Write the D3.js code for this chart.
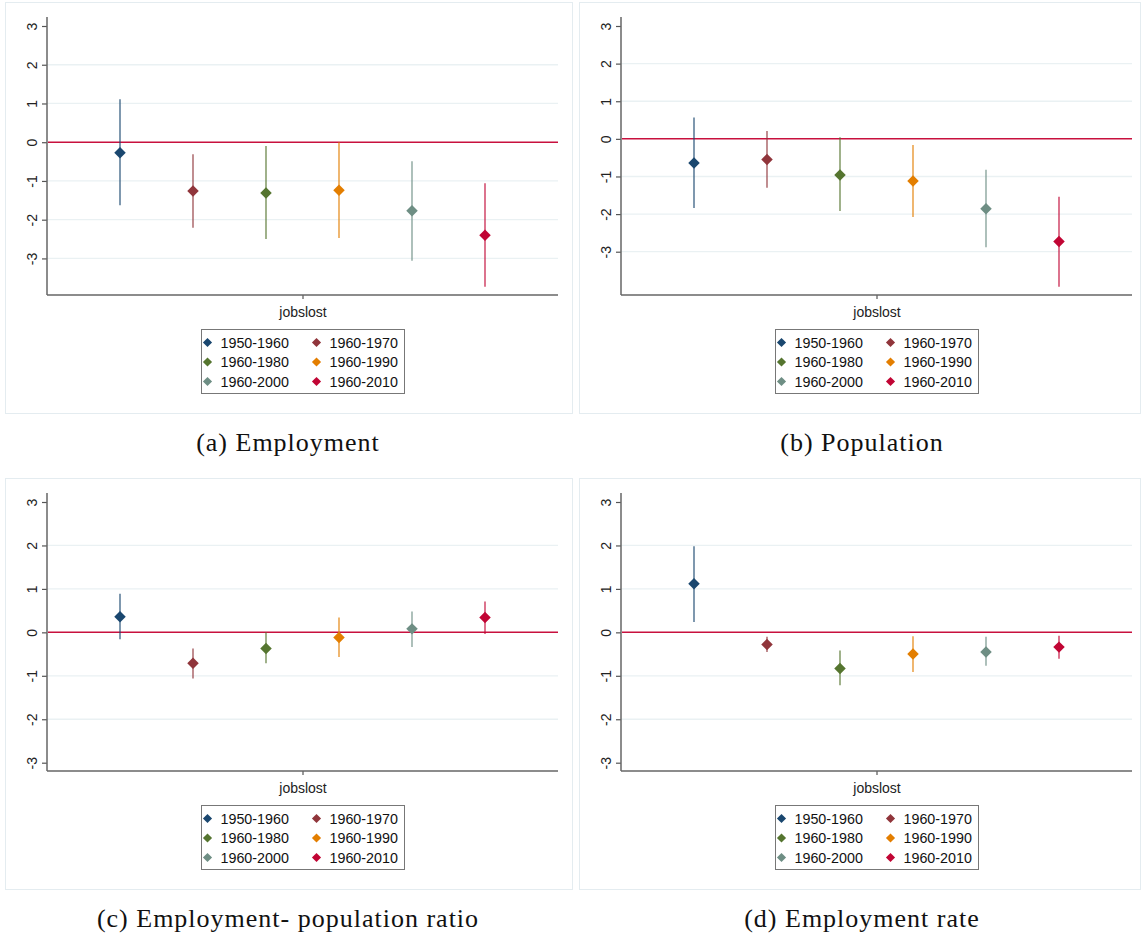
<!DOCTYPE html>
<html>
<head>
<meta charset="utf-8">
<script src="https://cdn.jsdelivr.net/npm/d3@7"></script>
<style>
  html, body { margin: 0; padding: 0; background: #fff; }
  svg { display: block; }
</style>
</head>
<body>
<svg id="chart" width="1143" height="938"></svg>
<script>
// ---------------- data ----------------
const periods = ["1950-1960", "1960-1970", "1960-1980", "1960-1990", "1960-2000", "1960-2010"];
const periodColors = ["#1a476f", "#90353b", "#55752f", "#e37e00", "#6e8e84", "#c10534"];
const yTicks = [-3, -2, -1, 0, 1, 2, 3];
const xTickLabel = "jobslost";
const panelTitles = ["(a) Employment", "(b) Population", "(c) Employment- population ratio", "(d) Employment rate"];

const empPoint = [-0.27, -1.26, -1.31, -1.24, -1.77, -2.40];
const empLo    = [-1.63, -2.21, -2.50, -2.47, -3.06, -3.73];
const empHi    = [ 1.11, -0.31, -0.10,  0.00, -0.49, -1.06];

const popPoint = [-0.64, -0.55, -0.96, -1.12, -1.86, -2.73];
const popLo    = [-1.84, -1.30, -1.92, -2.08, -2.88, -3.93];
const popHi    = [ 0.57,  0.21,  0.04, -0.16, -0.82, -1.54];

const ratioPoint = [ 0.36, -0.71, -0.37, -0.12,  0.08,  0.34];
const ratioLo    = [-0.16, -1.06, -0.71, -0.57, -0.34, -0.04];
const ratioHi    = [ 0.89, -0.37,  0.00,  0.34,  0.48,  0.71];

const ratePoint = [ 1.12, -0.28, -0.83, -0.50, -0.45, -0.34];
const rateLo    = [ 0.24, -0.45, -1.22, -0.91, -0.77, -0.61];
const rateHi    = [ 1.98, -0.10, -0.42, -0.09, -0.10, -0.08];

const panels = [
  { title: panelTitles[0], point: empPoint,   lo: empLo,   hi: empHi,   ox: 0,   oy: 0,   boxW: 567 },
  { title: panelTitles[1], point: popPoint,   lo: popLo,   hi: popHi,   ox: 574, oy: 0,   boxW: 561 },
  { title: panelTitles[2], point: ratioPoint, lo: ratioLo, hi: ratioHi, ox: 0,   oy: 476, boxW: 567 },
  { title: panelTitles[3], point: ratePoint,  lo: rateLo,  hi: rateHi,  ox: 574, oy: 476, boxW: 561 }
];

// ---------------- layout ----------------
const svg = d3.select("#chart");
svg.append("rect").attr("width", 1143).attr("height", 938).attr("fill", "#fff");

const plotL = 47, plotR = 558;
const dataTop = 26, dataBot = 286.7;
const axisTop = 17, axisBot = 295;
const sansFont = "'Liberation Sans', Arial, Helvetica, sans-serif";

const diamond = (size) => d3.symbol().type(d3.symbolSquare).size(size)();

panels.forEach(p => {
  const g = svg.append("g").attr("transform", `translate(${p.ox},${p.oy})`);

  // outer frame
  g.append("rect")
    .attr("x", 5.5).attr("y", 2.5)
    .attr("width", p.boxW).attr("height", 411)
    .attr("fill", "#fff").attr("stroke", "#e4ecf0").attr("stroke-width", 1);

  const yMin = Math.min(yTicks[0], d3.min(p.lo));
  const yMax = Math.max(yTicks[yTicks.length - 1], d3.max(p.hi));
  const y = d3.scaleLinear().domain([yMin, yMax]).range([dataBot, dataTop]);
  const x = d3.scalePoint().domain(periods).range([plotL, plotR]).padding(1);

  // grid lines (not at the extremes)
  g.append("g").selectAll("line")
    .data(yTicks.filter(t => t > yMin && t < yMax && t !== 0))
    .join("line")
    .attr("x1", plotL).attr("x2", plotR)
    .attr("y1", d => y(d)).attr("y2", d => y(d))
    .attr("stroke", "#eaf1f3").attr("stroke-width", 1.3);

  // y axis
  const yAxis = d3.axisLeft(y).tickValues(yTicks).tickSize(5).tickPadding(8).tickFormat(d => String(d));
  const ya = g.append("g").attr("transform", `translate(${plotL},0)`).call(yAxis);
  ya.select(".domain").remove();
  ya.selectAll(".tick line").attr("stroke", "#555").attr("stroke-width", 1.2);
  ya.selectAll(".tick text")
    .attr("font-family", sansFont).attr("font-size", 14).attr("fill", "#222")
    .attr("text-anchor", "middle")
    .attr("x", null)
    .attr("transform", "translate(-15,0) rotate(-90)")
    .attr("dy", "0.35em");
  g.append("line")
    .attr("x1", plotL).attr("x2", plotL).attr("y1", axisTop).attr("y2", axisBot)
    .attr("stroke", "#666").attr("stroke-width", 1.5);

  // x axis
  const xc = (plotL + plotR) / 2;
  const xs = d3.scaleLinear().domain([0, 1]).range([plotL, plotR]);
  const xAxis = d3.axisBottom(xs).tickValues([0.5]).tickSize(4).tickPadding(8).tickFormat(() => xTickLabel);
  const xa = g.append("g").attr("transform", `translate(0,${axisBot})`).call(xAxis);
  xa.select(".domain").remove();
  xa.selectAll(".tick line").attr("stroke", "#555").attr("stroke-width", 1.2);
  xa.selectAll(".tick text").attr("font-family", sansFont).attr("font-size", 14).attr("fill", "#222");
  g.append("line")
    .attr("x1", plotL).attr("x2", plotR).attr("y1", axisBot).attr("y2", axisBot)
    .attr("stroke", "#666").attr("stroke-width", 1.5);

  // zero line
  g.append("line")
    .attr("x1", plotL + 1).attr("x2", plotR).attr("y1", y(0)).attr("y2", y(0))
    .attr("stroke", "#c8103e").attr("stroke-width", 1.5);

  // CI lines
  g.append("g").selectAll("line")
    .data(periods)
    .join("line")
    .attr("x1", d => x(d)).attr("x2", d => x(d))
    .attr("y1", (d, i) => y(p.lo[i])).attr("y2", (d, i) => y(p.hi[i]))
    .attr("stroke", (d, i) => periodColors[i])
    .attr("stroke-opacity", 0.7)
    .attr("stroke-width", 1.6);

  // point estimates
  g.append("g").selectAll("path")
    .data(periods)
    .join("path")
    .attr("d", diamond(66))
    .attr("transform", (d, i) => `translate(${x(d)},${y(p.point[i])}) rotate(45)`)
    .attr("fill", (d, i) => periodColors[i]);

  // legend
  const lgW = 203, lgH = 64;
  const lgX = xc - lgW / 2, lgY = 329;
  const lg = g.append("g");
  lg.append("rect")
    .attr("x", Math.round(lgX) + 0.5).attr("y", lgY + 0.5)
    .attr("width", lgW).attr("height", lgH)
    .attr("fill", "#fff").attr("stroke", "#777").attr("stroke-width", 1);
  const items = lg.selectAll("g.item").data(periods).join("g")
    .attr("class", "item")
    .attr("transform", (d, i) => {
      const col = i % 2, row = Math.floor(i / 2);
      return `translate(${lgX + 6.5 + col * 109},${lgY + 13.5 + row * 19.5})`;
    });
  items.append("path")
    .attr("d", diamond(42))
    .attr("transform", "rotate(45)")
    .attr("fill", (d, i) => periodColors[i]);
  items.append("text")
    .attr("x", 13).attr("dy", "0.36em")
    .attr("font-family", sansFont).attr("font-size", 14.3).attr("fill", "#111")
    .text(d => d);

  // caption
  g.append("text")
    .attr("x", 288).attr("y", 451)
    .attr("text-anchor", "middle")
    .attr("font-family", "'Liberation Serif', 'Times New Roman', serif")
    .attr("font-size", 26).attr("letter-spacing", 1).attr("fill", "#111")
    .text(p.title);
});
</script>
</body>
</html>
